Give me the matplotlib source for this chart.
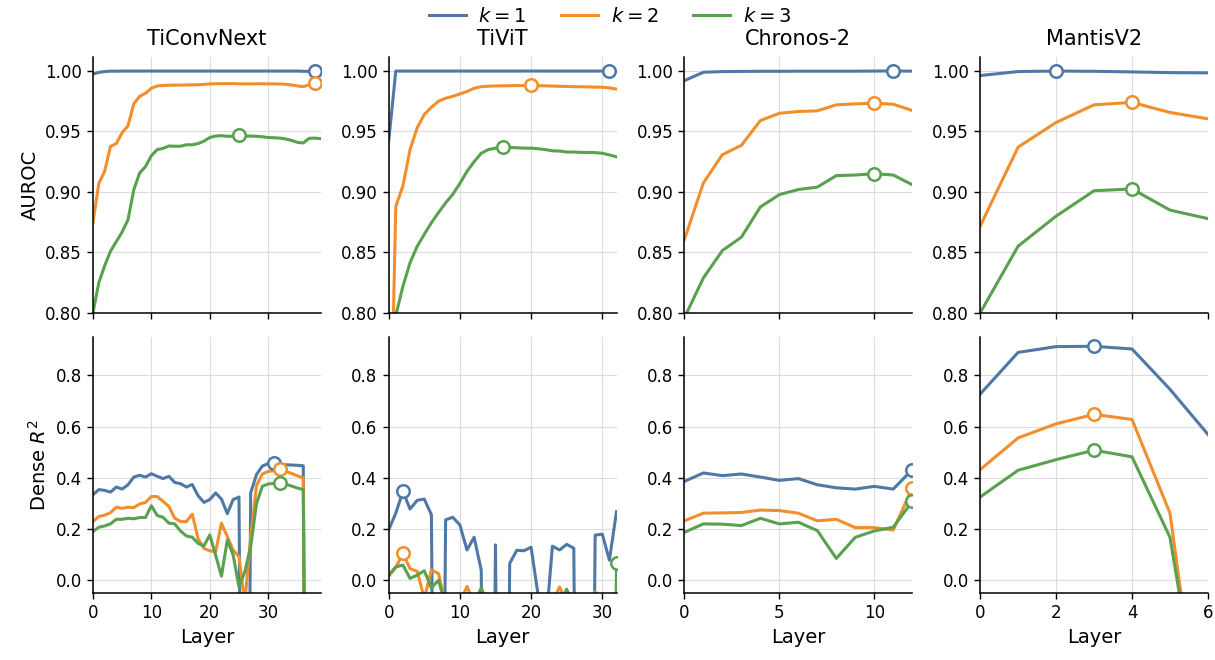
import numpy as np
import matplotlib
matplotlib.use("Agg")
import matplotlib.pyplot as plt

# model names (column titles)
models = ["TiConvNext", "TiViT", "Chronos-2", "MantisV2"]
k_labels = [r"$k=1$", r"$k=2$", r"$k=3$"]
colors = ["#4e79a7", "#f28e2b", "#59a14f"]

# ---- TiConvNext (layers 0..39) ----
ticonv_auroc_k1 = [0.9975, 0.9988, 0.9995, 0.9998, 0.9998, 0.9999, 0.9999, 0.9999, 0.9999, 0.9999,
                   0.9999, 0.9999, 0.9999, 0.9999, 0.9999, 0.9999, 0.9999, 0.9999, 0.9999, 0.9999,
                   0.9999, 0.9999, 0.9999, 0.9999, 0.9999, 0.9999, 0.9999, 0.9999, 0.9999, 0.9999,
                   0.9999, 0.9999, 0.9999, 0.9999, 0.9999, 0.9999, 0.9997, 0.9997, 1.0000, 0.9998]
ticonv_auroc_k2 = [0.8745, 0.907, 0.917, 0.9376, 0.940, 0.949, 0.9547, 0.973, 0.979, 0.9816,
                   0.9857, 0.9876, 0.988, 0.9882, 0.9883, 0.9883, 0.9884, 0.9885, 0.9886, 0.9889,
                   0.9893, 0.9894, 0.9895, 0.9895, 0.9895, 0.9894, 0.9893, 0.9893, 0.9894, 0.9894,
                   0.9893, 0.9893, 0.9892, 0.9890, 0.9884, 0.9876, 0.9870, 0.9885, 0.9900, 0.9898]
ticonv_auroc_k3 = [0.800, 0.825, 0.839, 0.851, 0.859, 0.867, 0.877, 0.902, 0.9157, 0.921,
                   0.930, 0.935, 0.936, 0.938, 0.9378, 0.9378, 0.939, 0.939, 0.940, 0.942,
                   0.945, 0.9462, 0.9465, 0.946, 0.946, 0.9470, 0.9462, 0.9462, 0.9460, 0.9456,
                   0.945, 0.9448, 0.9445, 0.9438, 0.9426, 0.9410, 0.9405, 0.9443, 0.9445, 0.9440]
ticonv_r2_k1 = [0.334, 0.354, 0.351, 0.344, 0.364, 0.356, 0.373, 0.403, 0.410, 0.403,
                0.416, 0.406, 0.397, 0.406, 0.382, 0.377, 0.364, 0.374, 0.330, 0.304,
                0.315, 0.341, 0.317, 0.260, 0.315, 0.325, -3.0, 0.341, 0.413, 0.446,
                0.456, 0.459, 0.452, 0.451, 0.450, 0.449, 0.447, -3.0, -3.5, -3.2]
ticonv_r2_k2 = [0.229, 0.249, 0.254, 0.264, 0.285, 0.281, 0.285, 0.284, 0.298, 0.304,
                0.327, 0.327, 0.308, 0.288, 0.242, 0.229, 0.229, 0.258, 0.162, 0.124,
                0.115, 0.111, 0.223, 0.170, 0.118, 0.092, -0.09, 0.17, 0.37, 0.415,
                0.425, 0.428, 0.433, 0.425, 0.417, 0.408, 0.400, -3.0, -3.5, -3.2]
ticonv_r2_k3 = [0.190, 0.207, 0.212, 0.220, 0.238, 0.238, 0.242, 0.240, 0.245, 0.245,
                0.291, 0.253, 0.246, 0.223, 0.220, 0.192, 0.173, 0.168, 0.144, 0.134,
                0.177, 0.098, 0.016, 0.157, 0.098, -0.026, 0.033, 0.131, 0.300, 0.367,
                0.376, 0.378, 0.381, 0.375, 0.368, 0.360, 0.354, -3.0, -3.5, -3.2]

# ---- TiViT (layers 0..32) ----
tivit_auroc_k1 = [0.9418] + [0.9999] * 30 + [1.0000, 0.9999]
tivit_auroc_k2 = [0.62, 0.888, 0.905, 0.935, 0.953, 0.964, 0.970, 0.975, 0.9775, 0.979,
                  0.981, 0.983, 0.9857, 0.987, 0.9874, 0.9876, 0.9877, 0.9878, 0.9879, 0.9879,
                  0.9882, 0.9878, 0.9877, 0.9875, 0.9873, 0.9872, 0.9870, 0.9869, 0.9868, 0.9866,
                  0.9865, 0.9860, 0.9850]
tivit_auroc_k3 = [0.76, 0.798, 0.822, 0.8415, 0.855, 0.865, 0.8745, 0.883, 0.891, 0.898,
                  0.907, 0.917, 0.925, 0.932, 0.935, 0.9362, 0.9372, 0.9368, 0.9365, 0.9362,
                  0.9362, 0.9357, 0.935, 0.934, 0.9338, 0.933, 0.933, 0.9327, 0.9327, 0.9325,
                  0.932, 0.9306, 0.929]
tivit_r2_k1 = [0.197, 0.262, 0.347, 0.278, 0.312, 0.317, 0.256, -3.0, 0.236, 0.246,
               0.216, 0.118, 0.168, 0.039, -3.0, 0.138, -3.0, 0.066, 0.117, 0.115,
               0.129, -0.06, -0.2, 0.133, 0.118, 0.140, 0.125, -3.0, -3.0, 0.176,
               0.180, 0.078, 0.268]
tivit_r2_k2 = [0.015, 0.050, 0.105, 0.045, 0.035, -0.07, 0.040, 0.026, -0.10, -0.30,
               -0.09, -0.024, -0.09, -0.30, -0.40, -0.35, -0.40, -0.30, -0.35, -0.30,
               -0.35, -0.30, -0.20, -0.09, -0.026, -0.09, -0.30, -0.20, -0.08, -0.045,
               -0.08, -0.09, -0.045]
tivit_r2_k3 = [0.020, 0.052, 0.059, 0.007, 0.020, 0.037, -0.030, 0.000, -0.10, -0.25,
               -0.30, -0.25, -0.09, -0.030, -0.10, -0.30, -0.35, -0.30, -0.35, -0.30,
               -0.35, -0.30, -0.25, -0.20, -0.09, -0.035, -0.10, -0.30, -0.25, -0.20,
               -0.20, -3.0, 0.068]

# ---- Chronos-2 (layers 0..12) ----
chronos_auroc_k1 = [0.992, 0.9989, 0.9995, 0.9996, 0.9997, 0.9997, 0.9998, 0.9998, 0.9998, 0.9998,
                    0.9999, 1.0000, 0.9998]
chronos_auroc_k2 = [0.8607, 0.9074, 0.9308, 0.9385, 0.959, 0.965, 0.9665, 0.967, 0.972, 0.9728,
                    0.9733, 0.9725, 0.9673]
chronos_auroc_k3 = [0.796, 0.829, 0.8516, 0.8626, 0.8876, 0.8978, 0.902, 0.904, 0.9135, 0.914,
                    0.9151, 0.9140, 0.906]
chronos_r2_k1 = [0.386, 0.419, 0.4085, 0.415, 0.403, 0.390, 0.397, 0.373, 0.361, 0.356,
                 0.3666, 0.356, 0.432]
chronos_r2_k2 = [0.232, 0.262, 0.263, 0.2645, 0.274, 0.272, 0.262, 0.232, 0.238, 0.2055,
                 0.2055, 0.196, 0.360]
chronos_r2_k3 = [0.187, 0.220, 0.219, 0.2134, 0.242, 0.220, 0.2265, 0.194, 0.085, 0.1676,
                 0.1925, 0.207, 0.308]

# ---- MantisV2 (layers 0..6) ----
mantis_auroc_k1 = [0.9962, 0.9995, 0.9999, 0.9997, 0.9992, 0.9986, 0.9984]
mantis_auroc_k2 = [0.8717, 0.937, 0.9574, 0.972, 0.974, 0.9657, 0.9604]
mantis_auroc_k3 = [0.800, 0.8552, 0.880, 0.901, 0.9025, 0.885, 0.878]
mantis_r2_k1 = [0.727, 0.890, 0.9126, 0.914, 0.9034, 0.746, 0.5696]
mantis_r2_k2 = [0.432, 0.556, 0.611, 0.648, 0.628, 0.262, -0.82]
mantis_r2_k3 = [0.325, 0.4295, 0.471, 0.508, 0.482, 0.1676, -0.72]

auroc = [
    [ticonv_auroc_k1, ticonv_auroc_k2, ticonv_auroc_k3],
    [tivit_auroc_k1, tivit_auroc_k2, tivit_auroc_k3],
    [chronos_auroc_k1, chronos_auroc_k2, chronos_auroc_k3],
    [mantis_auroc_k1, mantis_auroc_k2, mantis_auroc_k3],
]
dense_r2 = [
    [ticonv_r2_k1, ticonv_r2_k2, ticonv_r2_k3],
    [tivit_r2_k1, tivit_r2_k2, tivit_r2_k3],
    [chronos_r2_k1, chronos_r2_k2, chronos_r2_k3],
    [mantis_r2_k1, mantis_r2_k2, mantis_r2_k3],
]
xticks = [[0, 10, 20, 30], [0, 10, 20, 30], [0, 5, 10], [0, 2, 4, 6]]

fig, axes = plt.subplots(2, 4, figsize=(12.15, 6.6), dpi=100, sharex="col")
fig.subplots_adjust(left=0.0765, right=0.9942, top=0.9136, bottom=0.1015,
                    wspace=0.298, hspace=0.094)

for col, name in enumerate(models):
    for row, data in enumerate([auroc, dense_r2]):
        ax = axes[row, col]
        for k, series in enumerate(data[col]):
            y = np.array(series)
            x = np.arange(len(y))
            ax.plot(x, y, color=colors[k], lw=2.2, label=k_labels[k], zorder=2)
            # open circle on the best layer
            best = int(np.argmax(y))
            ax.plot(x[best], y[best], "o", ms=9, mfc="white", mec=colors[k],
                    mew=1.8, zorder=3)
        ax.set_xlim(0, len(data[col][0]) - 1)
        ax.set_xticks(xticks[col])
        if row == 0:
            ax.set_ylim(0.80, 1.0115)
            ax.set_yticks([0.80, 0.85, 0.90, 0.95, 1.00])
            ax.set_yticklabels(["0.80", "0.85", "0.90", "0.95", "1.00"])
            ax.set_title(name, fontsize=15, pad=9)
        else:
            ax.set_ylim(-0.05, 0.95)
            ax.set_yticks([0.0, 0.2, 0.4, 0.6, 0.8])
            ax.set_yticklabels(["0.0", "0.2", "0.4", "0.6", "0.8"])
            ax.set_xlabel("Layer", fontsize=14)
        ax.grid(True, color="#dddddd", lw=0.8, zorder=0)
        ax.set_axisbelow(True)
        ax.spines["top"].set_visible(False)
        ax.spines["right"].set_visible(False)
        ax.spines["left"].set_linewidth(1.1)
        ax.spines["bottom"].set_linewidth(1.1)
        ax.tick_params(labelsize=12, length=4.5, width=1.0)

axes[0, 0].set_ylabel("AUROC", fontsize=14)
axes[1, 0].set_ylabel("Dense $R^2$", fontsize=14)

handles, labels = axes[0, 0].get_legend_handles_labels()
fig.legend(handles, labels, loc="center", bbox_to_anchor=(0.502, 0.975), ncol=3,
           frameon=False, fontsize=14, handlelength=1.9, handletextpad=0.65,
           columnspacing=1.8)

fig.savefig("out.png", dpi=100)
